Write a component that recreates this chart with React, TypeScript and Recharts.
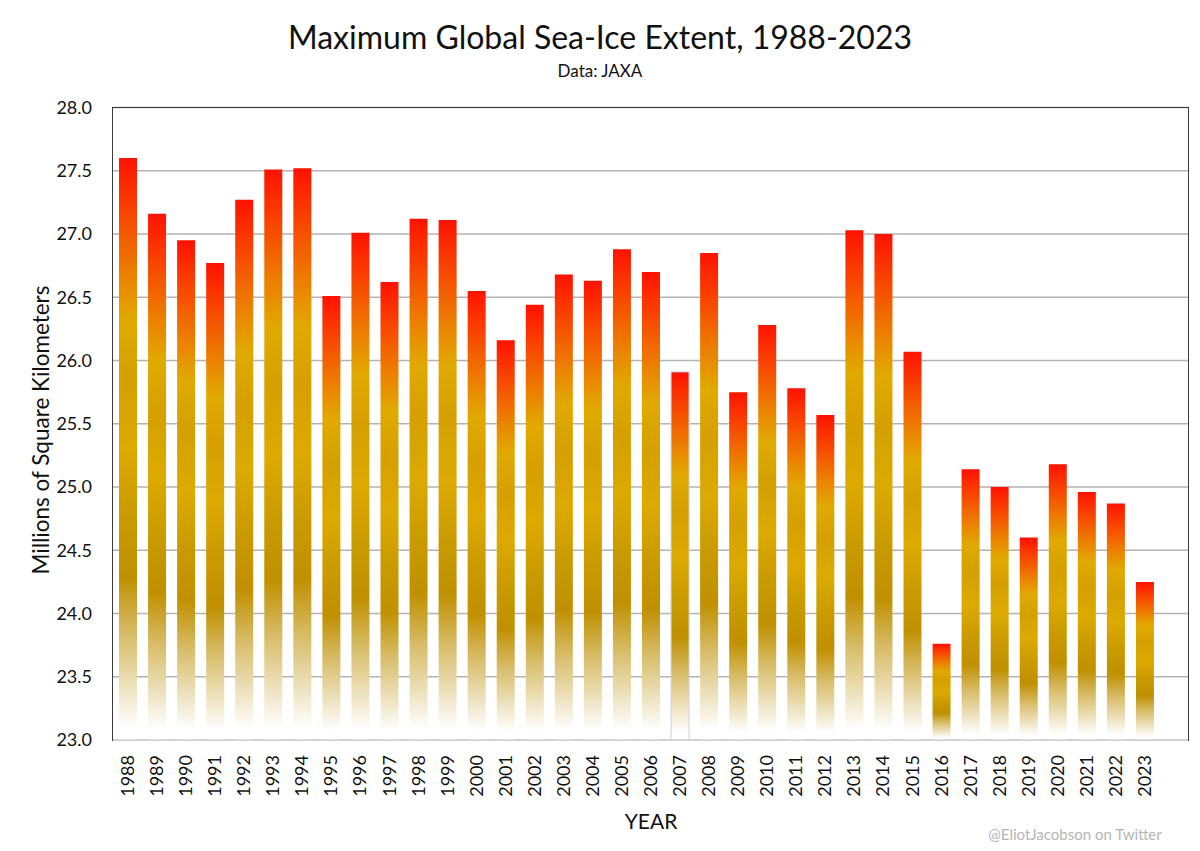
import { BarChart, Bar, XAxis, YAxis, CartesianGrid, Cell } from "recharts";

// Maximum global sea-ice extent (millions of km²)
const years = [
  "1988", "1989", "1990", "1991", "1992", "1993", "1994", "1995", "1996", "1997",
  "1998", "1999", "2000", "2001", "2002", "2003", "2004", "2005", "2006", "2007",
  "2008", "2009", "2010", "2011", "2012", "2013", "2014", "2015", "2016", "2017",
  "2018", "2019", "2020", "2021", "2022", "2023",
];

const extent = [
  27.60, 27.16, 26.95, 26.77, 27.27, 27.51, 27.52, 26.51, 27.01, 26.62,
  27.12, 27.11, 26.55, 26.16, 26.44, 26.68, 26.63, 26.88, 26.70, 25.91,
  26.85, 25.75, 26.28, 25.78, 25.57, 27.03, 27.00, 26.07, 23.76, 25.14,
  25.00, 24.60, 25.18, 24.96, 24.87, 24.25,
];

const yTicks = [23.0, 23.5, 24.0, 24.5, 25.0, 25.5, 26.0, 26.5, 27.0, 27.5, 28.0];

const data = years.map((year, i) => ({ year, extent: extent[i] }));

const FONT = "Lato, 'Open Sans', sans-serif";

const YearTick = ({ x, y, payload }: any) => (
  <g transform={`translate(${x},${y})`}>
    <text
      transform="rotate(-90)"
      textAnchor="end"
      dy="0.36em"
      fontSize={18}
      fontFamily={FONT}
      fill="#111"
    >
      {payload.value}
    </text>
  </g>
);

export default function App() {
  return (
    <div
      style={{
        position: "absolute",
        left: 0,
        top: 0,
        width: 1200,
        height: 851,
        background: "#fff",
        fontFamily: FONT,
      }}
    >
      <BarChart
        width={1200}
        height={851}
        data={data}
        margin={{ top: 107.5, right: 12, bottom: 11, left: 0 }}
      >
        <defs>
          <linearGradient id="iceGrad" x1="0" y1="0" x2="0" y2="1">
            <stop offset="0" stopColor="#ff1200" />
            <stop offset="0.1" stopColor="#f84800" />
            <stop offset="0.2" stopColor="#ec8000" />
            <stop offset="0.28" stopColor="#e0aa00" />
            <stop offset="0.38" stopColor="#d5a000" />
            <stop offset="0.5" stopColor="#dcaa00" />
            <stop offset="0.62" stopColor="#c99a00" />
            <stop offset="0.72" stopColor="#c09000" />
            <stop offset="0.82" stopColor="#d8bd6a" />
            <stop offset="0.92" stopColor="#f0e6c8" />
            <stop offset="0.98" stopColor="#ffffff" />
          </linearGradient>
        </defs>
        <CartesianGrid vertical={false} stroke="#b3b3b3" strokeWidth={1.5} />
        <XAxis
          dataKey="year"
          height={100}
          padding={{ left: 0, right: 29 }}
          axisLine={{ stroke: "#d4d4d4", strokeWidth: 1.5 }}
          tickLine={false}
          tickSize={0}
          tickMargin={15}
          interval={0}
          tick={<YearTick />}
        />
        <YAxis
          width={113}
          domain={[23, 28]}
          ticks={yTicks}
          allowDataOverflow
          tickFormatter={(v: number) => v.toFixed(1)}
          axisLine={false}
          tickLine={false}
          tickSize={6}
          tickMargin={15}
          tick={{ fontSize: 18, fill: "#111", fontFamily: FONT }}
        />
        <Bar dataKey="extent" barSize={18} fill="url(#iceGrad)" isAnimationActive={false}>
          {data.map((d, i) => (
            <Cell
              key={`cell-${i}`}
              fill="url(#iceGrad)"
              stroke={d.year === "2007" ? "#cdd3e0" : "none"}
              strokeWidth={1}
            />
          ))}
        </Bar>
      </BarChart>

      {/* plot frame: dark on top, left and right */}
      <div
        style={{
          position: "absolute",
          left: 112.25,
          top: 106.75,
          width: 1076.5,
          height: 634,
          boxSizing: "border-box",
          borderTop: "1.5px solid #3a3a3a",
          borderLeft: "1.5px solid #3a3a3a",
          borderRight: "1.5px solid #3a3a3a",
          pointerEvents: "none",
        }}
      />

      <div
        style={{
          position: "absolute",
          left: 0,
          width: 1200,
          top: 17,
          textAlign: "center",
          fontSize: 32,
          color: "#111",
        }}
      >
        Maximum Global Sea-Ice Extent, 1988-2023
      </div>
      <div
        style={{
          position: "absolute",
          left: 0,
          width: 1200,
          top: 60,
          textAlign: "center",
          fontSize: 17,
          color: "#111",
        }}
      >
        Data: JAXA
      </div>
      <div
        style={{
          position: "absolute",
          left: 40,
          top: 430,
          transform: "translate(-50%, -50%) rotate(-90deg)",
          whiteSpace: "nowrap",
          fontSize: 22.5,
          color: "#111",
        }}
      >
        Millions of Square Kilometers
      </div>
      <div
        style={{
          position: "absolute",
          left: 651,
          top: 820,
          transform: "translate(-50%, -50%)",
          fontSize: 21,
          color: "#111",
        }}
      >
        YEAR
      </div>
      <div
        style={{
          position: "absolute",
          left: 1075,
          top: 834,
          transform: "translate(-50%, -50%)",
          whiteSpace: "nowrap",
          fontSize: 15,
          color: "#b5b5b5",
        }}
      >
        @EliotJacobson on Twitter
      </div>
    </div>
  );
}
